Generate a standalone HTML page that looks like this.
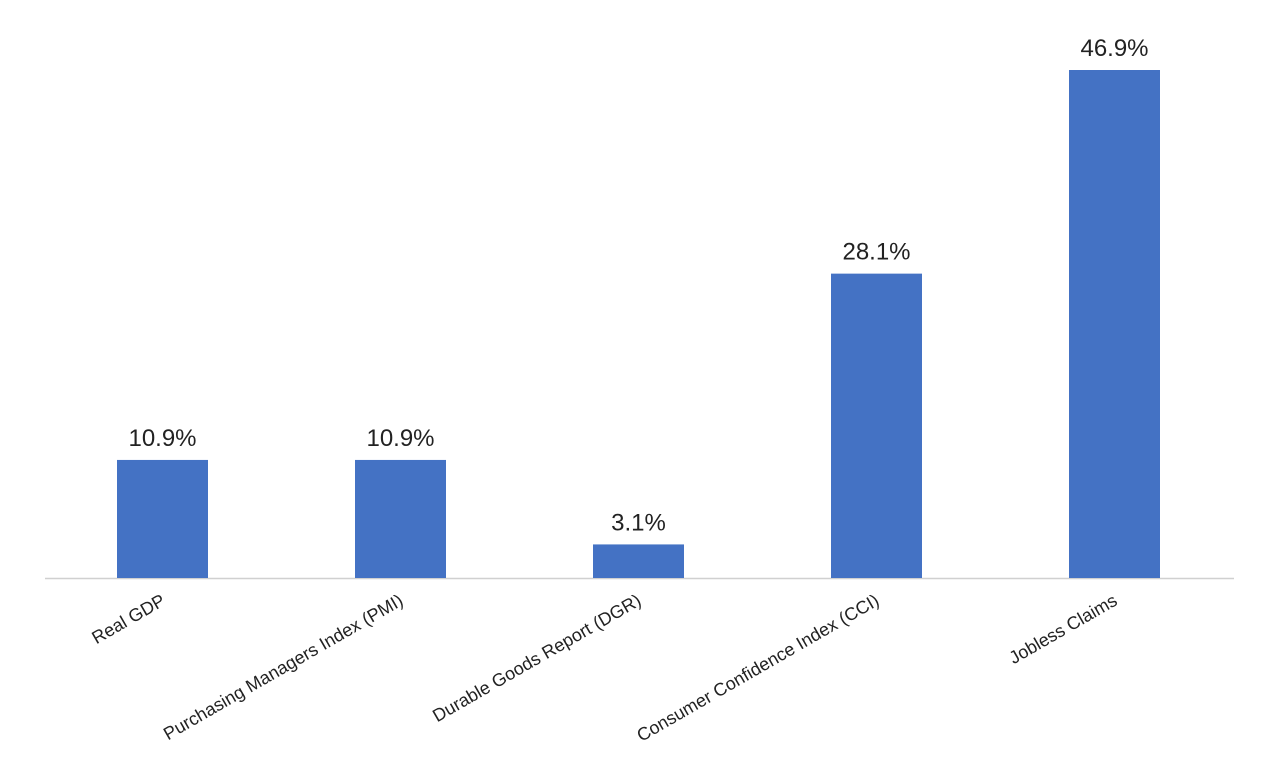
<!DOCTYPE html>
<html>
<head>
<meta charset="utf-8">
<style>
  html,body{margin:0;padding:0;background:#fff;}
  svg{display:block;font-family:"Liberation Sans",sans-serif;}
</style>
</head>
<body>
<svg id="chart" width="1264" height="784" viewBox="0 0 1264 784" xmlns="http://www.w3.org/2000/svg">
  <line x1="45" y1="578.5" x2="1234" y2="578.5" stroke="#d0d0d0" stroke-width="1.5"/>
  <g id="bars"></g>
  <g id="values"></g>
  <g id="cats"></g>
</svg>
<script>
const categories = ["Real GDP","Purchasing Managers Index (PMI)","Durable Goods Report (DGR)","Consumer Confidence Index (CCI)","Jobless Claims"];
const values = [10.9, 10.9, 3.1, 28.1, 46.9];
const valueLabels = ["10.9%","10.9%","3.1%","28.1%","46.9%"];

const NS = "http://www.w3.org/2000/svg";
const baseY = 578, pxPerUnit = 508/46.9;
const firstCenter = 162.5, step = 238, barW = 91;
const xCenter = i => firstCenter + i*step;
const yScale = v => baseY - v*pxPerUnit;

const gb = document.getElementById('bars');
const gv = document.getElementById('values');
const gc = document.getElementById('cats');
categories.forEach((c,i)=>{
  const cx = xCenter(i), top = yScale(values[i]);
  const r = document.createElementNS(NS,'rect');
  
  
  r.setAttribute('x', cx - barW/2);
  r.setAttribute('y', top);
  r.setAttribute('width', barW);
  r.setAttribute('height', baseY - top);
  r.setAttribute('fill', '#4472c4');
  gb.appendChild(r);

  const t = document.createElementNS(NS,'text');
  
  
  t.setAttribute('x', cx);
  t.setAttribute('y', top - 14);
  t.setAttribute('text-anchor', 'middle');
  t.setAttribute('font-size', '24');
  t.setAttribute('fill', '#222');
  t.textContent = valueLabels[i];
  gv.appendChild(t);

  const l = document.createElementNS(NS,'text');
  
  
  const lx = cx + 4, ly = 604;
  l.setAttribute('x', lx);
  l.setAttribute('y', ly);
  l.setAttribute('text-anchor', 'end');
  l.setAttribute('font-size', '18');
  l.setAttribute('fill', '#222');
  l.setAttribute('transform', `rotate(-30 ${lx} ${ly})`);
  l.textContent = c;
  gc.appendChild(l);
});
</script>
</body>
</html>
